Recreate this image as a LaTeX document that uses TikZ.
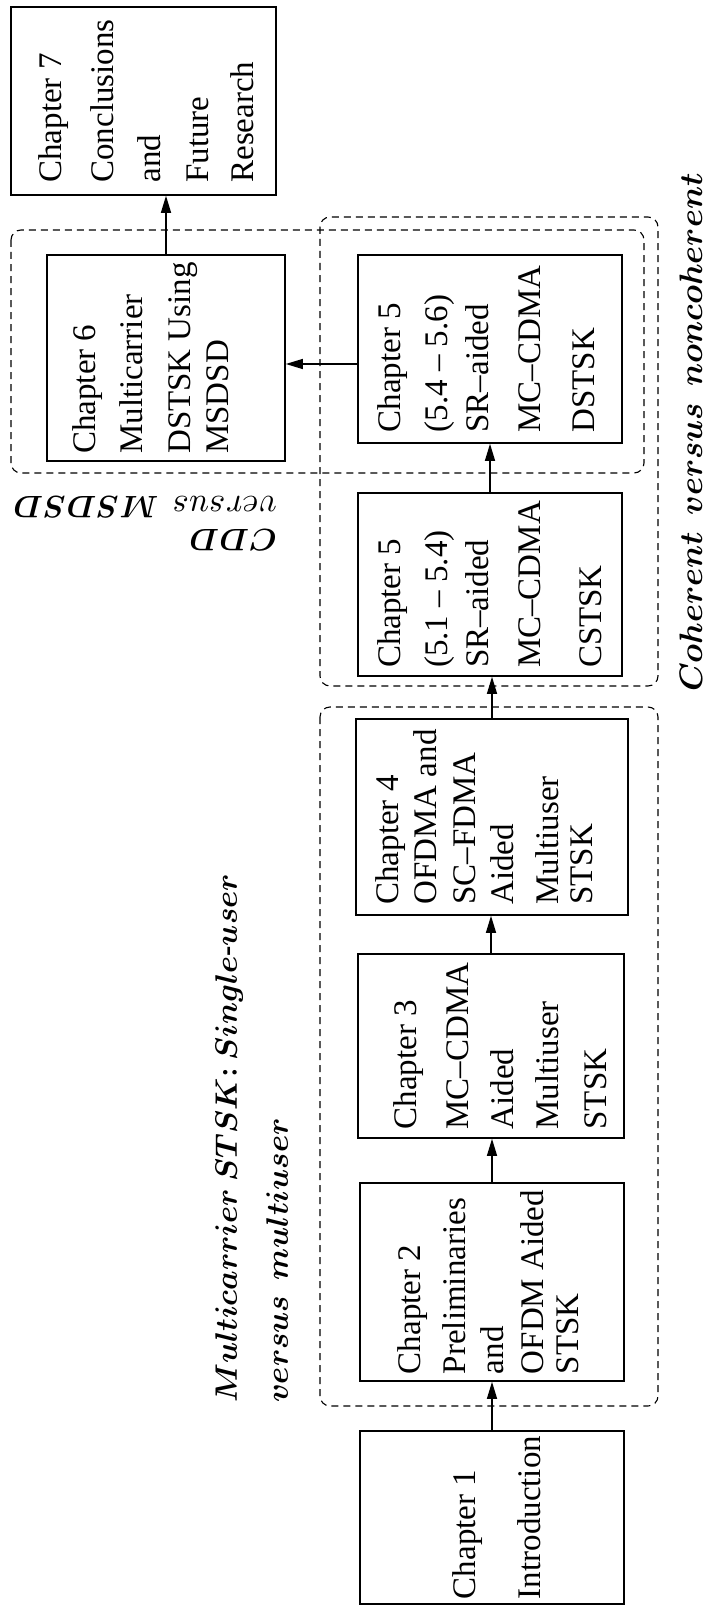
\RequirePackage{fix-cm}
\documentclass[tikz,border=0pt]{standalone}
\DeclareFontShape{OML}{cmm}{m}{it}{<->cmmi10}{}
\DeclareFontShape{OML}{cmm}{b}{it}{<->cmmib10}{}
\usepackage{fontspec}
\setmainfont{Liberation Serif}
\usetikzlibrary{arrows.meta}
\newcommand{\boxfont}{\fontsize{33}{34}\selectfont}
\newcommand{\labfont}{\boldmath\fontsize{31}{51}\selectfont}
\tikzset{
  chbox/.style={draw, line width=1.6pt, inner sep=0pt},
  chtxt/.style={rotate=90, inner sep=0pt, font=\boxfont},
  grp/.style={draw, line width=1.1pt, dash pattern=on 7pt off 5pt, rounded corners=10pt},
  arr/.style={line width=1.3pt, -{Triangle[length=17pt,width=10pt]}},
  lab/.style={inner sep=0pt}
}
\begin{document}
\begin{tikzpicture}[x=1pt,y=-1pt]
\useasboundingbox (0,0) rectangle (707,1605);
% groups
\draw[grp] (320,707) rectangle (658,1406);
\draw[grp] (320,217) rectangle (658,686);
\draw[grp] (11,230) rectangle (644,473);
% boxes
\node[chbox, minimum width=264pt, minimum height=173pt] (c1) at (492,1517.5) {};
\node[chbox, minimum width=264pt, minimum height=198pt] (c2) at (492,1282) {};
\node[chbox, minimum width=266pt, minimum height=184pt] (c3) at (491,1046) {};
\node[chbox, minimum width=272pt, minimum height=196pt] (c4) at (492,817) {};
\node[chbox, minimum width=264pt, minimum height=183pt] (c5a) at (490,584.5) {};
\node[chbox, minimum width=264pt, minimum height=188pt] (c5b) at (490,349) {};
\node[chbox, minimum width=238pt, minimum height=206pt] (c6) at (166,358) {};
\node[chbox, minimum width=265pt, minimum height=188pt] (c7) at (143.5,101) {};
% box texts
\node[chtxt] (t1) at (500.7,1517.5) {\begin{tabular}{@{}l@{}}Chapter 1\\[31pt]Introduction\end{tabular}};
\node[chtxt] (t2) at (492.2,1282) {\begin{tabular}{@{}l@{}}Chapter 2\\[11pt]Preliminaries\\[4pt]and\\[6pt]OFDM Aided\\[1pt]STSK\end{tabular}};
\node[chtxt] (t3) at (504.2,1046) {\begin{tabular}{@{}l@{}}Chapter 3\\[18pt]MC–CDMA\\[11pt]Aided\\[11pt]Multiuser\\[14pt]STSK\end{tabular}};
\node[chtxt] (t4) at (488.2,817) {\begin{tabular}{@{}l@{}}Chapter 4\\[4pt]OFDMA and\\[5pt]SC–FDMA\\[4pt]Aided\\[11pt]Multiuser\\STSK\end{tabular}};
\node[chtxt] (t5a) at (493.7,584.5) {\begin{tabular}{@{}l@{}}Chapter 5\\[13pt](5.1 – 5.4)\\[7pt]SR–aided\\[18pt]MC–CDMA\\[27pt]CSTSK\end{tabular}};
\node[chtxt] (t5b) at (490.2,349) {\begin{tabular}{@{}l@{}}Chapter 5\\[13pt](5.4 – 5.6)\\[7pt]SR–aided\\[18pt]MC–CDMA\\[20pt]DSTSK\end{tabular}};
\node[chtxt] (t6) at (154.7,358) {\begin{tabular}{@{}l@{}}Chapter 6\\[13pt]Multicarrier\\[14pt]DSTSK Using\\[4pt]MSDSD\end{tabular}};
\node[chtxt] (t7) at (150.2,101) {\begin{tabular}{@{}l@{}}Chapter 7\\[18pt]Conclusions\\[13pt]and\\[14pt]Future\\[11pt]Research\end{tabular}};
% labels
\node[lab, rotate=90, anchor=north west, font=\labfont] (la) at (201,1403)
  {\begin{tabular}{@{}l@{}}$Multicarrier\ STSK{:}\ Single\mbox{\bfseries -}user$\\$versus\ \ multiuser$\end{tabular}};
\node[lab, rotate=90, anchor=base west, font=\boldmath\fontsize{32.5}{40}\selectfont] (lb) at (702,692)
  {$Coherent\ \ versus\ \ noncoherent$};
\node[lab, rotate=180, anchor=north west, font=\boldmath\fontsize{31}{33}\selectfont] (lc) at (277,553)
  {\begin{tabular}{@{}l@{}}$CDD$\\{\unboldmath\fontsize{35}{33}\selectfont$versus$}\hspace{14pt}$MSDSD$\end{tabular}};
% arrows
\draw[arr] (c1.north) -- (c1.north |- c2.south);
\draw[arr] (c2.north) -- (c2.north |- c3.south);
\draw[arr] (c3.north) -- (c3.north |- c4.south);
\draw[arr] (c4.north) -- (c4.north |- c5a.south);
\draw[arr] (c5a.north) -- (c5a.north |- c5b.south);
\coordinate (h56) at (358,364);
\draw[arr] (c5b.west |- h56) -- (c6.east |- h56);
\draw[arr] (c6.north) -- (c6.north |- c7.south);
\end{tikzpicture}
\end{document}
